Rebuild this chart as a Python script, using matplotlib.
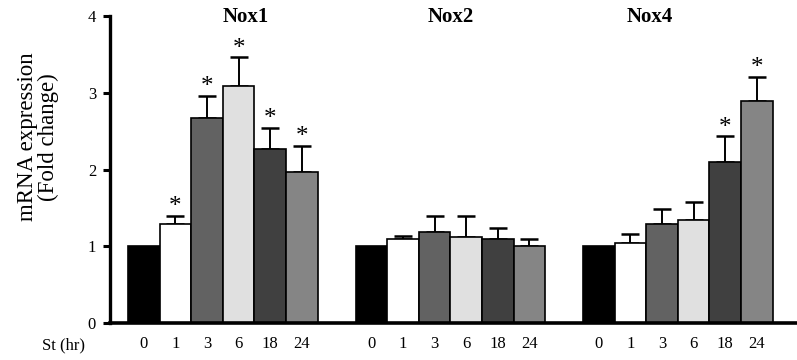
import matplotlib
matplotlib.use("Agg")
import matplotlib.pyplot as plt
import numpy as np

plt.rcParams['font.family'] = ['Liberation Serif', 'DejaVu Serif']

genes = ["Nox1", "Nox2", "Nox4"]
time_labels = ["0", "1", "3", "6", "18", "24"]
nox1_mean = [1.00, 1.29, 2.67, 3.09, 2.27, 1.97]
nox1_err = [0.00, 0.10, 0.29, 0.37, 0.27, 0.34]
nox2_mean = [1.00, 1.09, 1.19, 1.12, 1.10, 1.00]
nox2_err = [0.00, 0.05, 0.20, 0.27, 0.14, 0.09]
nox4_mean = [1.00, 1.04, 1.29, 1.34, 2.10, 2.89]
nox4_err = [0.00, 0.12, 0.19, 0.24, 0.33, 0.32]
nox1_sig = [False, True, True, True, True, True]
nox2_sig = [False, False, False, False, False, False]
nox4_sig = [False, False, False, False, True, True]

means = [nox1_mean, nox2_mean, nox4_mean]
errs = [nox1_err, nox2_err, nox4_err]
sigs = [nox1_sig, nox2_sig, nox4_sig]
colors = ["#000000", "#ffffff", "#626262", "#e0e0e0", "#404040", "#858585"]

group_gap = 7.2
title_pos = [3.23, 9.7, 16.0]

fig = plt.figure(figsize=(7.97, 3.6), dpi=100)
ax = fig.add_axes([110/797, 1-323/360, 1-110/797, (323-16)/360])

xticks = []
xlabels = []
for g, (m, e, s) in enumerate(zip(means, errs, sigs)):
    x = g*group_gap + np.arange(len(m))
    ax.bar(x, m, width=1.0, color=colors, edgecolor="black", linewidth=1.2, zorder=2)
    for xi, mi, ei, si in zip(x, m, e, s):
        if ei > 0:
            ax.errorbar([xi], [mi], yerr=[[0], [ei]], fmt='none', ecolor='black',
                        elinewidth=1.4, capsize=6.5, capthick=1.8, zorder=1)
        if si:
            ax.annotate("*", xy=(xi, mi+ei), xytext=(0, -1.5), textcoords='offset points',
                        ha='center', va='bottom', fontsize=18, annotation_clip=False)
    xticks.extend(x)
    xlabels.extend(time_labels)
    ax.text(title_pos[g], 3.99, genes[g], ha='center', va='center', fontsize=15,
            fontweight='bold', clip_on=False)

ax.set_xlim(-1.07, 20.67)
ax.set_ylim(0, 4)
ax.set_yticks([0, 1, 2, 3, 4])
ax.set_xticks(xticks)
ax.set_xticklabels(xlabels, fontsize=12)
ax.tick_params(axis='x', length=0, pad=9)
ax.tick_params(axis='y', length=5, width=2.2, direction='out', pad=5, labelsize=12)
for sp in ['top', 'right']:
    ax.spines[sp].set_visible(False)
ax.spines['left'].set_linewidth(2.4)
ax.spines['bottom'].set_linewidth(2.6)

fig.text(38/797, 1-137/360, "mRNA expression\n(Fold change)", rotation=90,
         ha='center', va='center', fontsize=16.5, linespacing=0.95, multialignment='center')
fig.text(42/797, 1-345/360, "St (hr)", ha='left', va='center', fontsize=12)

fig.savefig("out.png", dpi=100)
